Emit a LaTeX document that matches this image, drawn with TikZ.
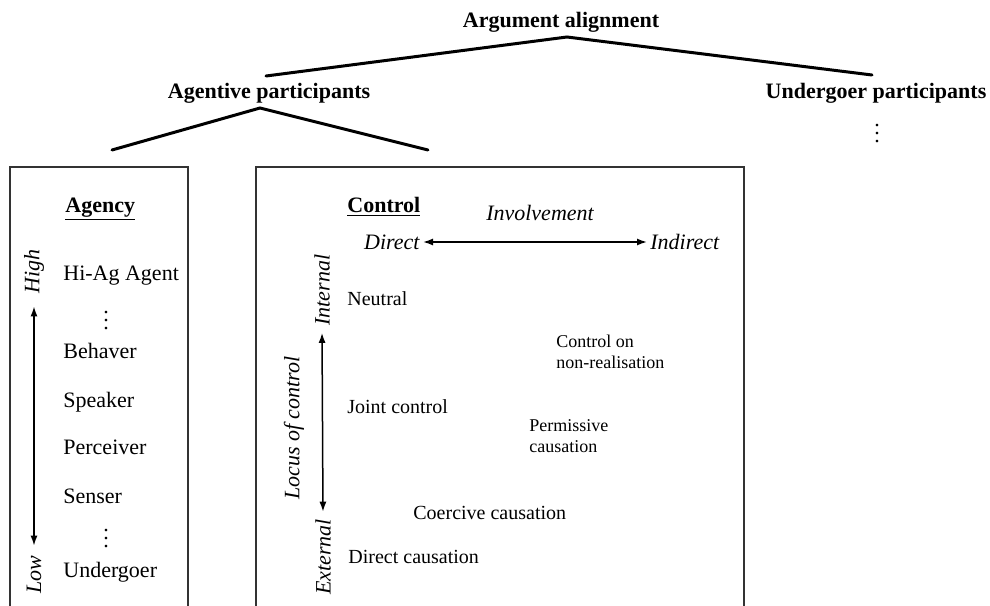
\documentclass[tikz,border=0pt]{standalone}
\usepackage{fontspec}
\setmainfont{Liberation Serif}
\usetikzlibrary{arrows.meta}

\begin{document}
\begin{tikzpicture}[x=0.5pt, y=-0.5pt, font=\fontsize{11}{13}\selectfont,
    branch/.style={line width=1.5pt, line cap=round},
    panel/.style={line width=1pt, draw=black!80},
    axisarrow/.style={line width=0.75pt, {Latex[length=5pt,width=3.5pt]}-{Latex[length=5pt,width=3.5pt]}},
    head/.style={font=\fontsize{11}{13}\selectfont\bfseries},
    role/.style={anchor=base west, inner sep=0pt},
    gap/.style={inner sep=0pt},
    ctrl/.style={anchor=base west, inner sep=0pt, font=\fontsize{10}{12}\selectfont},
    ctrlsmall/.style={anchor=west, inner sep=0pt, align=left, font=\fontsize{9}{10.5}\selectfont},
    dim/.style={font=\fontsize{11}{13}\selectfont\itshape, inner sep=1.5pt}]
    \useasboundingbox (0,0) rectangle (990,605);

    % Top of the tree
    \node[head] (argal) at (561,22) {Argument alignment};
    \coordinate (argtop) at (567,37);
    \coordinate (argleft) at (266,76);
    \coordinate (argright) at (872,75);
    \draw[branch] (argleft) -- (argtop) -- (argright);

    % Second level
    \node[head] (agentive) at (269,93) {Agentive participants};
    \node[head] (undergoer) at (876,93) {Undergoer participants};
    \node[gap] (underdots) at (877,128) {$\vdots$};
    \coordinate (agtop) at (260,108);
    \coordinate (agleft) at (112,150);
    \coordinate (agright) at (428,150);
    \draw[branch] (agleft) -- (agtop) -- (agright);

    % Draw Boxes (open at the bottom)
    \draw[panel] (10,607) -- (10,167) -- (188,167) -- (188,607);
    \draw[panel] (256,607) -- (256,167) -- (744,167) -- (744,607);

    % Agency box
    % -- header and scale
    \node[role, head] (agency) at (65,212) {\underline{Agency}};
    \node[dim, rotate=90] (high) at (34,271) {High};
    \node[dim, rotate=90] (low) at (34,575) {Low};
    \draw[axisarrow, shorten <=5pt, shorten >=3.5pt] (high.west) -- (low.east);

    % -- roles
    \node[role] (hiag) at (63,280) {Hi-Ag Agent};
    \node[gap] (agdots1) at (106,315) {$\vdots$};
    \node[role] (behaver) at (63,358) {Behaver};
    \node[role] (speaker) at (63,407) {Speaker};
    \node[role] (perceiver) at (63,454) {Perceiver};
    \node[role] (senser) at (63,503) {Senser};
    \node[gap] (agdots2) at (106,533) {$\vdots$};
    \node[role] (undergoer2) at (63,577) {Undergoer};

    % Control box
    % -- header and involvement scale
    \node[role, head] (control) at (347,212) {\underline{Control}};
    \node[dim] (involve) at (540,213) {Involvement};
    \node[dim, anchor=east] (direct) at (423,242) {Direct};
    \node[dim, anchor=west] (indirect) at (647,242) {Indirect};
    \draw[axisarrow] (direct.east) -- (indirect.west);

    % -- locus scale
    \node[dim, rotate=90] (internal) at (322,290) {Internal};
    \node[dim, rotate=90] (locus) at (294,428) {Locus of control};
    \node[dim, rotate=90] (external) at (323,557) {External};
    \draw[axisarrow, shorten <=2pt, shorten >=2pt] (internal.west) -- (external.east);

    % -- control types
    \node[ctrl] (neutral) at (347,305) {Neutral};
    \node[ctrlsmall] (nonreal) at (556,352) {Control on\\non-realisation};
    \node[ctrl] (joint) at (347,413) {Joint control};
    \node[ctrlsmall] (permissive) at (529,436) {Permissive\\causation};
    \node[ctrl] (coercive) at (413,519) {Coercive causation};
    \node[ctrl] (directcaus) at (348,563) {Direct causation};
\end{tikzpicture}
\end{document}
